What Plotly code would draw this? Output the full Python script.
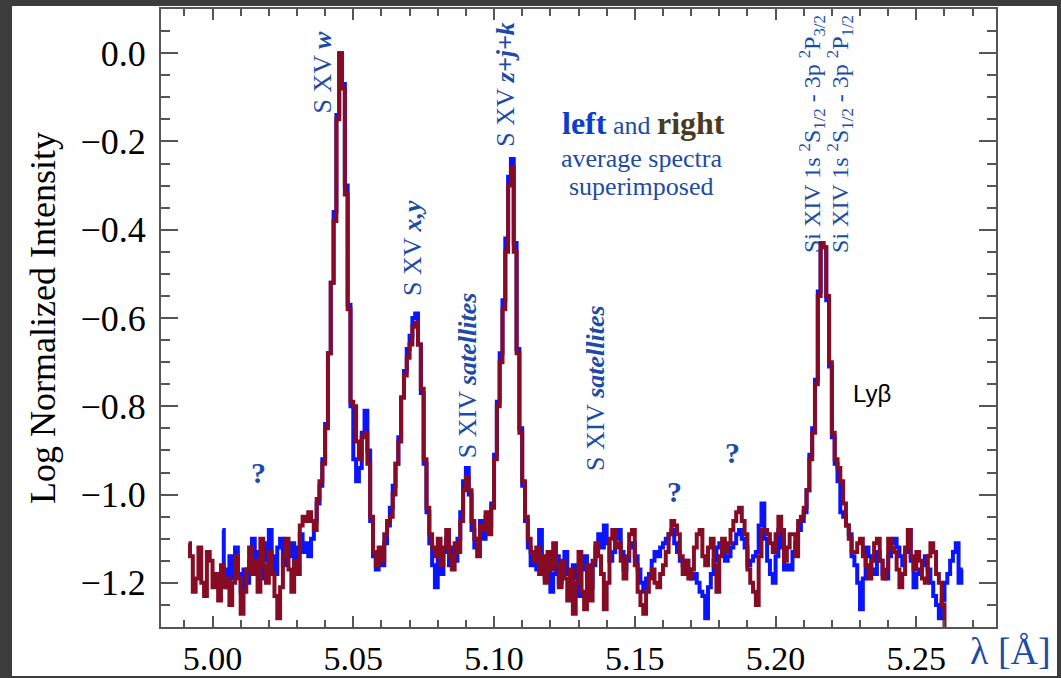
import numpy as np
import plotly.graph_objects as go

# ---------------- data ----------------
# wavelength grid start / bin width (Angstrom)
red_start = 4.9915
blue_start = 5.0035
bin_width = 0.001

# "right" average spectrum (dark red), log normalized intensity
red_vals = [
    -1.11, -1.14, -1.22, -1.19, -1.12, -1.20, -1.23, -1.13, -1.15, -1.21,
    -1.18, -1.24, -1.16, -1.21, -1.19, -1.25, -1.20, -1.14, -1.19, -1.27,
    -1.22, -1.17, -1.12, -1.18, -1.15, -1.22, -1.10, -1.16, -1.20, -1.13,
    -1.18, -1.23, -1.28, -1.21, -1.14, -1.10, -1.17, -1.22, -1.15, -1.18,
    -1.07, -1.05, -1.06, -1.04, -1.06, -1.08, -1.01, -0.97, -0.93, -0.85,
    -0.68, -0.52, -0.38, -0.15, 0.00, -0.08, -0.32, -0.58, -0.79, -0.80,
    -0.88, -0.92, -0.87, -0.86, -0.93, -1.05, -1.13, -1.16, -1.12, -1.15,
    -1.09, -1.06, -1.05, -1.00, -0.93, -0.88, -0.78, -0.73, -0.69, -0.66,
    -0.62, -0.61, -0.66, -0.76, -0.92, -1.03, -1.09, -1.12, -1.14, -1.10,
    -1.16, -1.12, -1.08, -1.14, -1.17, -1.11, -1.13, -1.06, -0.99, -0.96,
    -0.99, -1.06, -1.10, -1.14, -1.07, -1.08, -1.04, -1.09, -1.03, -0.92,
    -0.80, -0.70, -0.58, -0.45, -0.30, -0.26, -0.45, -0.68, -0.86, -0.97,
    -1.05, -1.10, -1.13, -1.15, -1.12, -1.18, -1.14, -1.20, -1.13, -1.17,
    -1.11, -1.16, -1.21, -1.15, -1.19, -1.24, -1.17, -1.27, -1.20, -1.13,
    -1.22, -1.26, -1.16, -1.24, -1.15, -1.11, -1.14, -1.18, -1.26, -1.20,
    -1.10, -1.08, -1.12, -1.11, -1.15, -1.19, -1.14, -1.09, -1.08, -1.16,
    -1.22, -1.25, -1.27, -1.22, -1.19, -1.17, -1.20, -1.21, -1.18, -1.16,
    -1.13, -1.09, -1.06, -1.07, -1.09, -1.14, -1.18, -1.15, -1.19, -1.17,
    -1.12, -1.09, -1.08, -1.14, -1.16, -1.12, -1.10, -1.16, -1.22, -1.14,
    -1.10, -1.13, -1.11, -1.08, -1.06, -1.04, -1.03, -1.06, -1.09, -1.17,
    -1.20, -1.22, -1.25, -1.14, -1.08, -1.08, -1.09, -1.11, -1.13, -1.09,
    -1.05, -1.08, -1.15, -1.12, -1.09, -1.09, -1.14, -1.06, -1.05, -1.03,
    -0.99, -0.92, -0.86, -0.75, -0.55, -0.43, -0.44, -0.55, -0.70, -0.86,
    -0.92, -0.94, -0.97, -1.02, -1.07, -1.10, -1.13, -1.13, -1.11, -1.10,
    -1.14, -1.16, -1.19, -1.15, -1.11, -1.10, -1.15, -1.19, -1.17, -1.10,
    -1.12, -1.13, -1.17, -1.21, -1.18, -1.12, -1.08, -1.14, -1.17, -1.13,
    -1.15, -1.19, -1.20, -1.14, -1.11, -1.13, -1.18, -1.20, -1.25, -1.40,
]

# "left" average spectrum (blue), log normalized intensity
blue_vals = [
    -1.08, -1.17, -1.21, -1.14, -1.19, -1.12, -1.18, -1.22, -1.17, -1.20,
    -1.15, -1.10, -1.16, -1.13, -1.19, -1.11, -1.15, -1.08, -1.14, -1.18,
    -1.12, -1.10, -1.16, -1.12, -1.14, -1.11, -1.17, -1.12, -1.09, -1.13,
    -1.11, -1.14, -1.10, -1.06, -1.02, -0.98, -0.92, -0.84, -0.68, -0.52,
    -0.36, -0.14, 0.00, -0.07, -0.30, -0.57, -0.80, -0.92, -0.97, -0.94,
    -0.86, -0.81, -0.90, -1.06, -1.14, -1.17, -1.14, -1.16, -1.11, -1.07,
    -1.03, -0.98, -0.93, -0.87, -0.78, -0.72, -0.67, -0.64, -0.60, -0.59,
    -0.66, -0.77, -0.93, -1.04, -1.11, -1.16, -1.21, -1.14, -1.18, -1.13,
    -1.10, -1.16, -1.12, -1.15, -1.10, -1.04, -0.97, -0.94, -1.00, -1.08,
    -1.12, -1.10, -1.06, -1.10, -1.05, -1.07, -1.02, -0.91, -0.79, -0.68,
    -0.56, -0.42, -0.28, -0.24, -0.43, -0.67, -0.85, -0.98, -1.06, -1.12,
    -1.16, -1.13, -1.17, -1.08, -1.15, -1.19, -1.16, -1.22, -1.18, -1.14,
    -1.20, -1.17, -1.13, -1.18, -1.21, -1.16, -1.19, -1.23, -1.17, -1.14,
    -1.19, -1.21, -1.16, -1.12, -1.09, -1.12, -1.07, -1.11, -1.15, -1.13,
    -1.10, -1.08, -1.13, -1.17, -1.15, -1.12, -1.11, -1.14, -1.17, -1.20,
    -1.22, -1.19, -1.18, -1.15, -1.13, -1.14, -1.12, -1.11, -1.10, -1.09,
    -1.08, -1.11, -1.13, -1.15, -1.16, -1.15, -1.17, -1.19, -1.18, -1.20,
    -1.22, -1.23, -1.28, -1.21, -1.18, -1.15, -1.12, -1.11, -1.13, -1.15,
    -1.14, -1.12, -1.11, -1.09, -1.08, -1.10, -1.12, -1.16, -1.15, -1.14,
    -1.13, -1.07, -1.02, -1.10, -1.15, -1.18, -1.20, -1.14, -1.08, -1.12,
    -1.17, -1.16, -1.17, -1.13, -1.11, -1.08, -1.06, -1.04, -0.99, -0.91,
    -0.85, -0.74, -0.54, -0.43, -0.44, -0.56, -0.71, -0.87, -0.93, -0.97,
    -1.04, -1.05, -1.07, -1.09, -1.14, -1.16, -1.20, -1.26, -1.19, -1.12,
    -1.14, -1.17, -1.18, -1.13, -1.15, -1.18, -1.19, -1.14, -1.11, -1.10,
    -1.12, -1.14, -1.16, -1.13, -1.08, -1.15, -1.21, -1.18, -1.17, -1.16,
    -1.14, -1.17, -1.20, -1.23, -1.25, -1.28, -1.24, -1.20, -1.18, -1.15,
    -1.13, -1.11, -1.20, -1.17,
]

x_range = [4.9817, 5.2783]
y_range = [-1.3, 0.1]
x_tick_vals = [5.00, 5.05, 5.10, 5.15, 5.20, 5.25]
y_tick_vals = [0.0, -0.2, -0.4, -0.6, -0.8, -1.0, -1.2]

red_x = np.round(red_start + bin_width * np.arange(len(red_vals)), 4)
blue_x = np.round(blue_start + bin_width * np.arange(len(blue_vals)), 4)

# ---------------- styling ----------------
SERIF = "Liberation Serif"
LBL = "#1c4ca6"
BLUE = "#0a14ff"
RED = "#850c24"
AX = "#555555"

fig = go.Figure()
fig.add_trace(go.Scatter(x=blue_x, y=blue_vals, mode="lines",
                         line=dict(color=BLUE, width=4, shape="hvh"),
                         name="left", showlegend=False))
fig.add_trace(go.Scatter(x=red_x, y=red_vals, mode="lines",
                         line=dict(color=RED, width=4, shape="hvh"),
                         name="right", showlegend=False))

W, H = 1061, 678
L, R, T, B = 161, 65, 9, 51
pw, ph = W - L - R, H - T - B

def px2paper_x(px):
    return (px - L) / pw

def py2paper_y(py):
    return (H - B - py) / ph

# dark outer frame: white sheet on dark paper
fig.add_shape(type="rect", xref="paper", yref="paper", layer="below",
              x0=px2paper_x(12), x1=px2paper_x(1057),
              y0=py2paper_y(676), y1=py2paper_y(6),
              fillcolor="white", line=dict(width=0))

ann = []
def rot(text, x, y, size=26):
    ann.append(dict(x=x, y=y, xref="x", yref="y", text=text, showarrow=False,
                    textangle=-90, xanchor="center", yanchor="middle",
                    font=dict(family=SERIF, size=size, color=LBL)))

rot("S XV <b><i>w</i></b>", 5.0392, -0.042)
rot("S XV <b><i>x,y</i></b>", 5.0711, -0.442)
rot("S XIV <b><i>satellites</i></b>", 5.0907, -0.730)
rot("S XV <b><i>z+j+k</i></b>", 5.1038, -0.070)
rot("S XIV <b><i>satellites</i></b>", 5.1358, -0.759)
rot("Si XIV 1s <sup>2</sup>S<sub>1/2</sub> - 3p <sup>2</sup>P<sub>3/2</sub>", 5.2130, -0.183, 24)
rot("Si XIV 1s <sup>2</sup>S<sub>1/2</sub> - 3p <sup>2</sup>P<sub>1/2</sub>", 5.2229, -0.183, 24)

for qx, qy in [(5.0164, -0.950), (5.1642, -0.993), (5.1848, -0.905)]:
    ann.append(dict(x=qx, y=qy, xref="x", yref="y", text="<b>?</b>",
                    showarrow=False, xanchor="center", yanchor="middle",
                    font=dict(family=SERIF, size=30, color=LBL)))

ann.append(dict(x=5.1532, y=-0.158, xref="x", yref="y", showarrow=False,
                xanchor="center", yanchor="middle",
                text=("<b><span style='color:#0b3cd0;font-size:32px'>left</span></b>"
                      " and "
                      "<b><span style='color:#4a3b1f;font-size:32px'>right</span></b>"),
                font=dict(family=SERIF, size=26, color=LBL)))
ann.append(dict(x=5.1525, y=-0.238, xref="x", yref="y", showarrow=False,
                xanchor="center", yanchor="middle", text="average spectra",
                font=dict(family=SERIF, size=26, color=LBL)))
ann.append(dict(x=5.1521, y=-0.303, xref="x", yref="y", showarrow=False,
                xanchor="center", yanchor="middle", text="superimposed",
                font=dict(family=SERIF, size=26, color=LBL)))

ann.append(dict(x=5.2342, y=-0.771, xref="x", yref="y", showarrow=False,
                xanchor="center", yanchor="middle", text="Lyβ",
                font=dict(family="Liberation Sans", size=24, color="black")))

ann.append(dict(x=px2paper_x(1010), y=py2paper_y(651), xref="paper", yref="paper",
                showarrow=False, xanchor="center", yanchor="middle",
                text="λ [Å]", font=dict(family=SERIF, size=38, color=LBL)))

fig.update_layout(
    width=W, height=H, autosize=False,
    margin=dict(l=L, r=R, t=T, b=B, pad=0, autoexpand=False),
    paper_bgcolor="#3c3c3c", plot_bgcolor="white",
    annotations=ann,
    showlegend=False,
)

fig.update_xaxes(
    range=x_range, tickvals=x_tick_vals, tickformat=".2f",
    ticks="inside", ticklen=11, tickwidth=2, tickcolor=AX,
    minor=dict(dtick=0.01, tick0=5.0, ticks="inside", ticklen=7, tickwidth=2, tickcolor=AX),
    showline=True, linecolor=AX, linewidth=2, mirror="ticks",
    showgrid=False, zeroline=False, automargin=False,
    tickfont=dict(family=SERIF, size=34, color="black"),
    ticklabelstandoff=0,
)
fig.update_yaxes(
    range=y_range, tickvals=y_tick_vals, tickformat=".1f",
    ticks="inside", ticklen=17, tickwidth=2, tickcolor=AX,
    minor=dict(dtick=0.05, tick0=0.0, ticks="inside", ticklen=9, tickwidth=2, tickcolor=AX),
    showline=True, linecolor=AX, linewidth=2, mirror="ticks",
    showgrid=False, zeroline=False, automargin=False,
    tickfont=dict(family=SERIF, size=36, color="black"),
    ticklabelstandoff=6,
    title=dict(text="Log Normalized Intensity", standoff=14,
               font=dict(family=SERIF, size=36, color="black")),
)

fig.write_html("out.html")
